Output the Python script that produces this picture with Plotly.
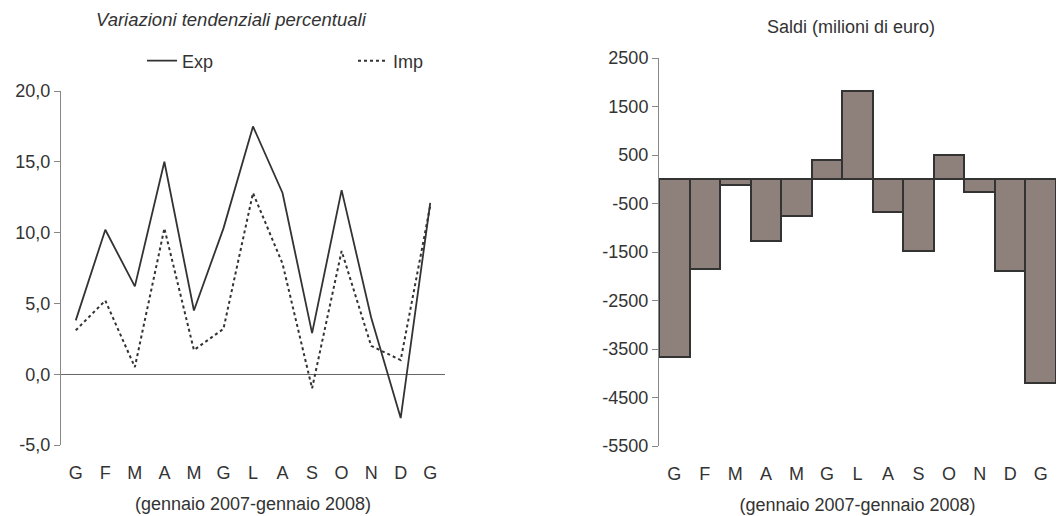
import plotly.graph_objects as go

months = ["G", "F", "M", "A", "M", "G", "L", "A", "S", "O", "N", "D", "G"]
exp_vals = [3.8, 10.2, 6.2, 15.0, 4.5, 10.3, 17.5, 12.8, 2.9, 13.0, 4.0, -3.1, 12.1]
imp_vals = [3.1, 5.2, 0.5, 10.3, 1.7, 3.2, 12.8, 7.8, -1.0, 8.7, 2.0, 1.0, 11.9]
saldi = [-3660, -1850, -110, -1280, -760, 400, 1820, -680, -1480, 500, -270, -1890, -4200]

left_ticks = [-5, 0, 5, 10, 15, 20]
left_labels = [f"{v:.1f}".replace(".", ",") for v in left_ticks]
right_ticks = [-5500, -4500, -3500, -2500, -1500, -500, 500, 1500, 2500]
right_labels = [str(v) for v in right_ticks]

title_left = "Variazioni tendenziali percentuali"
title_right = "Saldi (milioni di euro)"
x_title = "(gennaio 2007-gennaio 2008)"

idx = list(range(len(months)))
TXT = "#333333"
FONT = "Liberation Sans, Arial, sans-serif"
FS = 18

# page body adds an 8px offset; figure sized to fit the window
OFF = 8
W, H = 1064 - OFF, 516 - OFF
mt, mb = 50, 70
ph = H - mt - mb

def px_x(x):
    return (x - OFF) / W

def px_y(y):
    return (H - mb - (y - OFF)) / ph

def ydom(top_px, bot_px):
    return [max(0.0, px_y(bot_px)), min(1.0, px_y(top_px))]

fig = go.Figure()
fig.add_trace(go.Scatter(x=idx, y=exp_vals, name="Exp", mode="lines",
                         line=dict(color="#333333", width=1.8),
                         xaxis="x", yaxis="y"))
fig.add_trace(go.Scatter(x=idx, y=imp_vals, name="Imp", mode="lines",
                         line=dict(color="#333333", width=2, dash="3px,3px"),
                         xaxis="x", yaxis="y"))
fig.add_trace(go.Bar(x=idx, y=saldi, name="Saldi", showlegend=False,
                     marker=dict(color="#8e817c", line=dict(color="#333333", width=2)),
                     xaxis="x2", yaxis="y2"))

common_x = dict(tickmode="array", tickvals=idx, ticktext=months, showgrid=False,
                zeroline=False, showline=False, ticks="", automargin=False,
                ticklabelstandoff=15, tickfont=dict(size=FS, color=TXT),
                title=dict(text=x_title, font=dict(size=FS, color=TXT), standoff=15))

fig.update_layout(
    width=W, height=H,
    margin=dict(l=0, r=0, t=mt, b=mb),
    paper_bgcolor="white", plot_bgcolor="white",
    font=dict(family=FONT, size=FS, color=TXT),
    bargap=0,
    showlegend=True,
    legend=dict(orientation="h", x=px_x(142), y=px_y(61), xanchor="left", yanchor="middle",
                entrywidth=166, entrywidthmode="pixels",
                font=dict(size=FS, color=TXT), bgcolor="rgba(0,0,0,0)"),
    xaxis=dict(domain=[px_x(61), px_x(445)], range=[-0.5, 12.5], anchor="y", **common_x),
    yaxis=dict(domain=ydom(91, 445), range=[-5, 20], anchor="x",
               tickmode="array", tickvals=left_ticks, ticktext=left_labels,
               showgrid=False, showline=True, linecolor="#888888", linewidth=1,
               ticks="outside", ticklen=6, tickcolor="#888888",
               zeroline=True, zerolinecolor="#666666", zerolinewidth=1,
               automargin=False, tickfont=dict(size=FS, color=TXT)),
    xaxis2=dict(domain=[px_x(659), px_x(1056)], range=[-0.5, 12.5], anchor="y2", **common_x),
    yaxis2=dict(domain=ydom(58, 446.7), range=[-5500, 2500], anchor="x2",
                tickmode="array", tickvals=right_ticks, ticktext=right_labels,
                showgrid=False, showline=True, linecolor="#888888", linewidth=1,
                ticks="outside", ticklen=6, tickcolor="#888888",
                zeroline=False, automargin=False, tickfont=dict(size=FS, color=TXT)),
    annotations=[
        dict(text=f"<i>{title_left}</i>", xref="paper", yref="paper",
             x=px_x(231.5), y=px_y(20), xanchor="center", yanchor="middle",
             showarrow=False, font=dict(size=FS + 0.5, color=TXT)),
        dict(text=title_right, xref="paper", yref="paper",
             x=px_x(851), y=px_y(27), xanchor="center", yanchor="middle",
             showarrow=False, font=dict(size=FS, color=TXT)),
    ],
)

fig.write_html("out.html")
